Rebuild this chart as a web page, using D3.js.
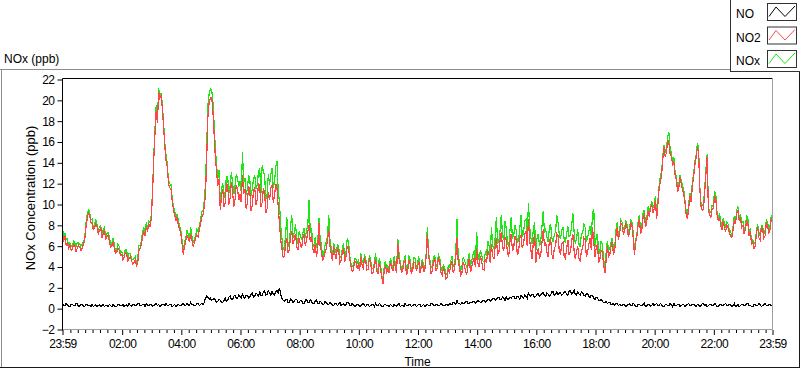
<!DOCTYPE html>
<html>
<head>
<meta charset="utf-8">
<script src="https://cdn.jsdelivr.net/npm/d3@7/dist/d3.min.js"></script>
<style>
  body { margin: 0; background: #fff; }
  text { font-family: "Liberation Sans", Arial, sans-serif; fill: #000; }
</style>
</head>
<body>
<div id="NoxChart"></div>
<script>
// one sample every 2.5 minutes, starting at 23:59, one row per hour
const sampleSeconds = 150;

const noValues = [
  0.5, 0.3, 0.3, 0.5, 0.4, 0.2, 0.2, 0.4, 0.4, 0.3, 0.3, 0.5, 0.5, 0.2, 0.3, 0.4, 0.4, 0.2, 0.2, 0.4, 0.4, 0.3, 0.3, 0.2,
  0.4, 0.2, 0.3, 0.4, 0.2, 0.3, 0.4, 0.2, 0.3, 0.4, 0.2, 0.3, 0.3, 0.2, 0.4, 0.3, 0.2, 0.4, 0.3, 0.2, 0.2, 0.4, 0.4, 0.3,
  0.3, 0.4, 0.2, 0.3, 0.4, 0.2, 0.5, 0.3, 0.2, 0.4, 0.4, 0.3, 0.3, 0.5, 0.5, 0.3, 0.3, 0.4, 0.4, 0.2, 0.5, 0.3, 0.3, 0.4,
  0.4, 0.2, 0.3, 0.4, 0.5, 0.3, 0.4, 0.2, 0.3, 0.4, 0.4, 0.3, 0.5, 0.3, 0.3, 0.4, 0.4, 0.2, 0.3, 0.4, 0.2, 0.3, 0.4, 0.3,
  0.3, 0.4, 0.5, 0.3, 0.3, 0.5, 0.4, 0.3, 0.6, 0.4, 0.4, 0.3, 0.3, 0.5, 0.5, 0.3, 0.4, 0.5, 0.4, 0.6, 1.0, 1.2, 1.1, 0.9,
  1.0, 0.8, 0.9, 1.0, 0.8, 0.6, 0.7, 0.9, 0.8, 0.6, 0.6, 0.8, 1.0, 0.7, 0.8, 1.1, 1.2, 0.9, 0.9, 1.2, 1.3, 1.0, 1.0, 1.3,
  1.2, 1.0, 1.4, 1.1, 1.0, 1.3, 1.3, 1.0, 1.1, 1.4, 1.5, 1.1, 1.2, 1.5, 1.4, 1.2, 1.6, 1.3, 1.3, 1.6, 1.7, 1.3, 1.4, 1.7,
  1.5, 1.3, 1.7, 1.4, 1.3, 1.6, 1.8, 1.5, 2.0, 1.4, 1.0, 0.8, 0.7, 0.9, 0.9, 0.6, 0.6, 0.9, 0.8, 0.6, 0.7, 0.9, 0.9, 0.6,
  0.6, 0.8, 0.8, 0.5, 0.5, 0.8, 0.9, 0.6, 0.6, 0.9, 0.7, 0.5, 0.5, 0.7, 0.8, 0.5, 0.5, 0.7, 0.6, 0.4, 0.4, 0.7, 0.6, 0.4,
  0.4, 0.6, 0.5, 0.3, 0.3, 0.5, 0.5, 0.3, 0.4, 0.6, 0.3, 0.4, 0.5, 0.3, 0.4, 0.6, 0.6, 0.3, 0.3, 0.5, 0.4, 0.2, 0.3, 0.4,
  0.4, 0.2, 0.3, 0.4, 0.5, 0.3, 0.2, 0.4, 0.4, 0.2, 0.3, 0.4, 0.4, 0.2, 0.5, 0.3, 0.3, 0.5, 0.4, 0.2, 0.2, 0.4, 0.4, 0.3,
  0.3, 0.2, 0.4, 0.3, 0.2, 0.4, 0.3, 0.2, 0.4, 0.5, 0.2, 0.3, 0.3, 0.2, 0.5, 0.3, 0.3, 0.4, 0.4, 0.2, 0.3, 0.4, 0.4, 0.2,
  0.3, 0.4, 0.4, 0.2, 0.3, 0.4, 0.2, 0.3, 0.4, 0.3, 0.3, 0.5, 0.5, 0.3, 0.3, 0.4, 0.4, 0.3, 0.3, 0.5, 0.4, 0.3, 0.3, 0.4,
  0.4, 0.3, 0.5, 0.4, 0.4, 0.6, 0.6, 0.4, 0.8, 0.5, 0.5, 0.4, 0.6, 0.5, 0.5, 0.7, 0.7, 0.5, 0.5, 0.6, 0.6, 0.7, 0.7, 0.5,
  0.6, 0.8, 0.7, 0.6, 0.6, 0.8, 0.8, 0.6, 0.7, 0.9, 0.9, 0.7, 0.8, 1.0, 1.0, 0.8, 0.9, 1.1, 1.1, 0.9, 0.9, 1.1, 1.0, 0.8,
  1.1, 0.9, 0.9, 1.1, 1.0, 1.2, 1.2, 1.0, 1.0, 1.2, 1.1, 0.9, 1.3, 1.1, 1.0, 1.3, 1.2, 1.0, 1.5, 1.3, 1.2, 1.4, 1.3, 1.1,
  1.2, 1.4, 1.4, 1.2, 1.3, 1.5, 1.5, 1.3, 1.2, 1.5, 1.4, 1.2, 1.3, 1.6, 1.6, 1.3, 1.4, 1.6, 1.3, 1.5, 1.5, 1.3, 1.4, 1.6,
  1.6, 1.4, 1.3, 1.7, 1.7, 1.4, 1.5, 1.8, 1.4, 1.3, 1.6, 1.4, 1.3, 1.6, 1.5, 1.3, 1.2, 1.4, 1.4, 1.2, 1.1, 1.3, 1.3, 1.0,
  0.9, 1.1, 1.0, 0.8, 0.8, 0.9, 0.7, 0.6, 0.6, 0.7, 0.5, 0.6, 0.6, 0.4, 0.4, 0.5, 0.3, 0.5, 0.5, 0.3, 0.4, 0.3, 0.3, 0.4,
  0.4, 0.2, 0.3, 0.4, 0.5, 0.3, 0.3, 0.5, 0.4, 0.2, 0.2, 0.4, 0.4, 0.3, 0.3, 0.4, 0.5, 0.2, 0.3, 0.4, 0.4, 0.2, 0.3, 0.5,
  0.3, 0.4, 0.5, 0.3, 0.3, 0.5, 0.4, 0.2, 0.2, 0.4, 0.4, 0.3, 0.3, 0.5, 0.4, 0.2, 0.5, 0.3, 0.3, 0.4, 0.4, 0.2, 0.3, 0.4,
  0.4, 0.2, 0.3, 0.4, 0.5, 0.3, 0.3, 0.4, 0.4, 0.3, 0.2, 0.4, 0.4, 0.2, 0.3, 0.5, 0.5, 0.3, 0.4, 0.2, 0.3, 0.4, 0.4, 0.3,
  0.3, 0.5, 0.4, 0.2, 0.2, 0.4, 0.4, 0.3, 0.3, 0.4, 0.5, 0.3, 0.3, 0.4, 0.4, 0.2, 0.3, 0.5, 0.2, 0.3, 0.4, 0.2, 0.3, 0.4,
  0.4, 0.3, 0.3, 0.5, 0.5, 0.3, 0.3, 0.2, 0.2, 0.4, 0.4, 0.3, 0.3, 0.5, 0.4, 0.2, 0.3, 0.4, 0.5, 0.3, 0.3, 0.4, 0.4, 0.3,
  0.3
];

const no2Values = [
  7.2, 6.6, 6.9, 6.1, 6.3, 5.8, 6.1, 5.6, 5.7, 6.2, 6.0, 5.5, 5.8, 6.1, 5.9, 5.6, 5.8, 6.2, 6.5, 7.8, 8.6, 9.2, 9.0, 8.3,
  8.2, 7.6, 7.8, 8.1, 7.9, 7.2, 7.5, 7.8, 6.8, 7.2, 7.6, 6.6, 6.9, 7.1, 6.5, 5.9, 6.0, 6.4, 5.9, 5.3, 5.4, 5.8, 5.6, 5.1,
  5.2, 4.7, 4.9, 5.4, 5.3, 4.6, 4.8, 5.0, 4.6, 4.3, 4.4, 4.7, 4.1, 4.3, 5.6, 5.8, 6.2, 7.0, 7.4, 7.0, 7.8, 7.5, 8.1, 7.9,
  8.6, 11.0, 14.2, 16.8, 19.0, 17.8, 20.8, 20.2, 20.4, 19.2, 17.5, 15.6, 14.2, 13.6, 12.0, 11.6, 11.5, 10.4, 9.5, 9.0, 8.4, 8.8, 8.0, 7.6,
  7.2, 6.2, 5.2, 6.0, 6.5, 7.0, 6.8, 6.4, 7.2, 6.6, 6.0, 6.3, 6.8, 7.1, 6.9, 7.6, 8.2, 8.8, 9.0, 9.8, 11.0, 14.5, 18.5, 19.8,
  20.2, 20.3, 19.0, 16.8, 14.5, 13.2, 11.8, 12.4, 9.5, 10.8, 11.5, 9.8, 10.2, 12.0, 11.8, 10.0, 10.6, 12.2, 11.2, 9.8, 10.5, 11.9, 11.5, 10.4,
  11.0, 10.2, 12.8, 11.0, 11.5, 9.6, 10.2, 11.8, 11.2, 9.4, 10.0, 11.4, 11.6, 10.0, 10.5, 12.0, 11.8, 9.8, 10.2, 11.6, 11.0, 9.2, 9.6, 11.2,
  10.4, 11.6, 11.8, 10.2, 10.8, 12.0, 11.6, 9.8, 8.2, 6.6, 5.8, 4.9, 5.0, 6.2, 6.8, 5.4, 5.6, 7.0, 7.4, 6.2, 6.6, 7.2, 6.0, 5.6,
  6.8, 6.2, 5.8, 6.8, 7.2, 6.0, 6.6, 7.4, 8.0, 6.4, 7.0, 5.8, 5.4, 6.2, 5.0, 5.6, 8.2, 6.0, 5.6, 4.6, 4.9, 5.4, 5.8, 6.6,
  7.6, 6.0, 5.3, 4.6, 6.0, 5.2, 4.8, 5.8, 5.6, 4.4, 4.6, 5.4, 5.8, 4.5, 5.0, 6.0, 5.9, 4.8, 4.1, 3.6, 3.7, 4.6, 4.5, 3.9,
  4.2, 3.6, 5.0, 4.2, 3.9, 4.8, 4.6, 3.7, 3.8, 4.9, 4.4, 3.4, 3.5, 4.2, 4.8, 3.6, 3.3, 4.4, 3.8, 3.0, 2.4, 3.6, 4.2, 3.5,
  3.8, 3.4, 4.5, 4.0, 3.6, 4.6, 4.0, 3.4, 6.3, 4.8, 4.2, 3.5, 3.7, 4.4, 4.6, 3.3, 3.5, 4.7, 4.3, 3.4, 3.6, 4.5, 4.4, 3.7,
  4.0, 4.6, 3.4, 3.9, 4.5, 3.5, 3.8, 5.0, 7.2, 5.0, 4.4, 3.4, 3.6, 4.6, 4.8, 3.6, 3.9, 4.9, 4.6, 3.5, 3.2, 3.9, 3.6, 2.9,
  3.0, 3.8, 3.5, 4.2, 4.6, 3.4, 3.8, 4.8, 6.8, 4.6, 4.0, 3.2, 3.4, 4.4, 4.2, 3.6, 3.3, 4.2, 4.8, 3.5, 4.0, 4.5, 4.9, 4.0,
  5.8, 4.4, 4.0, 5.0, 4.6, 3.8, 3.7, 4.8, 4.4, 5.6, 5.2, 4.4, 6.2, 5.0, 4.8, 6.0, 6.8, 5.2, 5.4, 6.6, 7.4, 5.8, 5.6, 6.8,
  6.6, 5.4, 5.0, 6.4, 7.2, 5.6, 5.8, 7.0, 6.6, 5.2, 5.4, 6.8, 7.0, 5.8, 6.2, 7.2, 7.4, 6.0, 8.6, 6.6, 5.6, 4.8, 6.4, 7.2,
  4.4, 5.4, 5.8, 4.8, 5.2, 6.4, 7.6, 6.0, 6.4, 5.4, 5.0, 6.6, 6.8, 5.2, 4.8, 5.8, 6.0, 7.2, 7.0, 5.6, 5.2, 6.2, 6.4, 5.0,
  4.8, 5.8, 6.6, 5.2, 5.4, 6.4, 7.2, 5.6, 4.8, 5.4, 6.0, 4.8, 4.6, 5.6, 5.8, 6.8, 6.6, 5.0, 5.4, 6.2, 6.8, 5.6, 7.8, 6.4,
  5.0, 5.8, 6.2, 4.4, 4.8, 5.6, 5.4, 4.2, 3.4, 4.6, 6.0, 5.0, 5.2, 6.0, 6.4, 5.2, 5.6, 7.0, 7.8, 6.6, 7.2, 8.2, 8.0, 7.2,
  7.4, 8.2, 7.8, 7.0, 7.2, 8.2, 8.0, 6.8, 5.2, 6.4, 7.0, 8.0, 8.6, 7.2, 7.6, 8.8, 9.0, 7.8, 8.4, 9.4, 8.8, 9.6, 10.0, 9.2,
  9.6, 10.4, 8.6, 10.0, 11.5, 12.2, 12.8, 14.4, 15.5, 14.6, 15.0, 16.2, 15.8, 14.8, 14.6, 13.8, 14.0, 12.8, 12.4, 11.2, 11.6, 12.6, 12.0, 11.4,
  11.0, 10.2, 9.0, 8.6, 9.6, 10.8, 10.2, 11.8, 12.6, 13.8, 14.5, 15.4, 15.2, 11.6, 9.8, 9.4, 9.6, 11.2, 13.0, 14.6, 9.4, 9.0, 8.8, 9.6,
  9.6, 10.8, 10.6, 9.0, 8.4, 8.8, 8.0, 7.6, 8.4, 7.8, 7.4, 8.0, 7.8, 7.2, 7.0, 6.8, 7.6, 8.4, 8.2, 9.2, 9.4, 8.4, 8.8, 7.8,
  8.0, 7.2, 7.6, 8.4, 8.2, 7.0, 7.4, 6.2, 6.4, 5.8, 6.0, 7.2, 7.8, 6.8, 6.6, 7.8, 7.6, 6.8, 7.0, 8.2, 8.0, 7.2, 7.6, 8.6,
  8.4
];

const noxValues = [
  7.7, 6.9, 7.2, 6.6, 6.7, 6.0, 6.3, 6.0, 6.1, 6.5, 6.3, 6.0, 6.3, 6.3, 6.2, 6.0, 6.2, 6.4, 6.7, 8.2, 9.0, 9.5, 9.3, 8.5,
  8.6, 7.8, 8.1, 8.5, 8.1, 7.5, 7.9, 8.0, 7.1, 7.6, 7.8, 6.9, 7.2, 7.3, 6.9, 6.2, 6.2, 6.8, 6.2, 5.5, 5.6, 6.2, 6.0, 5.4,
  5.5, 5.1, 5.1, 5.7, 5.7, 4.8, 5.3, 5.3, 4.8, 4.7, 4.8, 5.0, 4.4, 4.8, 6.1, 6.1, 6.5, 7.4, 7.8, 7.2, 8.3, 7.8, 8.4, 8.3,
  9.0, 11.2, 14.5, 17.2, 19.5, 18.1, 21.2, 20.4, 20.7, 19.6, 17.9, 15.9, 14.7, 13.9, 12.3, 12.0, 11.9, 10.6, 9.8, 9.4, 8.6, 9.1, 8.4, 7.9,
  7.5, 6.6, 5.7, 6.3, 6.8, 7.5, 7.2, 6.7, 7.8, 7.0, 6.4, 6.6, 7.1, 7.6, 7.4, 7.9, 8.6, 9.3, 9.4, 10.4, 12.0, 15.7, 19.6, 20.7,
  21.1, 21.0, 19.9, 17.8, 15.3, 13.8, 12.5, 13.3, 10.3, 11.4, 12.1, 10.6, 11.2, 12.7, 12.6, 11.1, 11.8, 13.1, 12.1, 11.0, 11.8, 12.9, 12.5, 11.7,
  12.2, 11.2, 15.0, 12.1, 12.5, 10.9, 11.5, 12.8, 12.3, 10.8, 11.5, 12.5, 12.8, 11.5, 11.9, 13.2, 13.4, 11.1, 13.8, 13.2, 12.7, 10.5, 11.0, 12.9,
  11.9, 12.9, 13.5, 11.6, 12.1, 13.6, 14.2, 11.3, 10.2, 8.0, 6.8, 5.7, 5.7, 7.1, 8.8, 6.0, 6.2, 7.9, 9.0, 6.8, 7.3, 8.1, 6.9, 6.2,
  7.4, 7.0, 6.6, 7.3, 7.7, 6.8, 7.5, 8.0, 10.4, 7.3, 7.7, 6.3, 5.9, 6.9, 5.8, 6.1, 8.7, 6.7, 6.2, 5.0, 5.3, 6.1, 6.4, 7.0,
  9.0, 6.6, 5.8, 4.9, 6.3, 5.7, 5.3, 6.1, 6.0, 5.0, 4.9, 5.8, 6.3, 4.8, 5.4, 6.7, 6.5, 5.1, 4.4, 4.1, 4.1, 4.8, 4.8, 4.3,
  4.6, 3.8, 5.3, 4.6, 4.4, 5.1, 4.8, 4.1, 4.2, 5.1, 4.7, 3.8, 3.9, 4.4, 5.3, 3.9, 3.6, 4.9, 4.2, 3.2, 2.6, 4.0, 4.6, 3.8,
  4.1, 3.6, 4.9, 4.3, 3.8, 5.0, 4.3, 3.6, 6.7, 5.3, 4.4, 3.8, 4.0, 4.6, 5.1, 3.6, 3.8, 5.1, 4.7, 3.6, 3.9, 4.9, 4.8, 3.9,
  4.3, 5.0, 3.8, 4.1, 4.8, 3.9, 4.0, 5.3, 7.8, 5.3, 4.7, 3.9, 4.1, 4.9, 5.1, 4.0, 4.3, 5.2, 4.9, 4.0, 3.6, 4.2, 3.9, 3.3,
  3.4, 4.1, 4.0, 4.6, 5.0, 4.0, 4.4, 5.2, 8.6, 5.1, 4.5, 3.6, 4.0, 4.9, 4.7, 4.3, 4.0, 4.7, 5.3, 4.1, 4.6, 5.2, 5.6, 4.5,
  7.4, 5.2, 4.7, 5.6, 5.2, 4.6, 4.5, 5.4, 5.1, 6.5, 6.1, 5.1, 7.8, 6.0, 5.8, 6.8, 8.8, 6.3, 6.5, 7.5, 9.0, 6.9, 6.6, 8.4,
  7.7, 6.3, 5.9, 7.5, 8.8, 6.8, 7.0, 8.0, 7.6, 6.4, 6.5, 7.7, 9.0, 6.9, 7.2, 8.5, 8.6, 7.0, 10.1, 7.9, 6.8, 6.2, 7.7, 8.3,
  5.6, 6.8, 7.2, 6.0, 6.5, 7.9, 9.4, 7.3, 7.6, 6.9, 6.4, 7.8, 8.1, 6.8, 6.4, 7.1, 7.4, 9.0, 8.3, 7.1, 6.7, 7.5, 7.8, 6.6,
  6.4, 7.2, 7.9, 6.9, 7.1, 7.8, 9.2, 7.4, 6.2, 6.7, 7.6, 6.2, 5.9, 7.2, 7.3, 8.1, 7.8, 6.4, 6.8, 7.4, 7.9, 6.9, 9.1, 9.6,
  5.9, 6.9, 7.2, 5.2, 5.6, 6.5, 6.1, 4.8, 4.0, 5.3, 6.5, 5.6, 5.8, 6.4, 6.8, 5.7, 5.9, 7.5, 8.3, 6.9, 7.6, 8.5, 8.3, 7.6,
  7.8, 8.4, 8.1, 7.4, 7.7, 8.5, 8.3, 7.3, 5.6, 6.6, 7.2, 8.4, 9.0, 7.5, 7.9, 9.2, 9.5, 8.0, 8.7, 9.8, 9.2, 9.8, 10.3, 9.7,
  9.9, 10.8, 9.1, 10.3, 11.8, 12.7, 13.2, 14.6, 15.7, 15.0, 15.4, 16.5, 16.9, 15.3, 15.0, 14.0, 14.5, 13.1, 12.7, 11.6, 12.0, 12.8, 12.3, 11.8,
  11.4, 10.4, 9.3, 9.0, 10.1, 11.1, 10.5, 12.2, 13.0, 14.1, 14.7, 15.8, 15.6, 11.8, 10.1, 9.9, 10.1, 11.5, 13.4, 14.8, 9.7, 9.4, 9.2, 9.9,
  9.9, 11.3, 11.0, 9.2, 8.6, 9.2, 8.4, 7.9, 8.7, 8.2, 7.9, 8.3, 8.1, 7.6, 7.4, 7.0, 7.9, 8.9, 8.4, 9.5, 9.8, 8.6, 9.1, 8.2,
  8.4, 7.5, 7.9, 8.9, 8.7, 7.3, 7.7, 6.4, 6.6, 6.2, 6.4, 7.5, 8.1, 7.3, 7.0, 8.0, 7.9, 7.2, 7.5, 8.5, 8.3, 7.6, 8.0, 8.9,
  8.7
];

const seriesNames = ['NO', 'NO2', 'NOx'];
const seriesColors = ['#000000', '#ff4646', '#1ee614'];

const yTicks = [-2, 0, 2, 4, 6, 8, 10, 12, 14, 16, 18, 20, 22];
const xTickLabels = ['23:59', '02:00', '04:00', '06:00', '08:00', '10:00', '12:00',
  '14:00', '16:00', '18:00', '20:00', '22:00', '23:59'];

const width = 800;
const height = 369;
const plot = {left: 62.5, right: 772.5, top: 78.5, bottom: 329.5};

const startTime = new Date(2000, 0, 1, 23, 59);
const endTime = d3.timeDay.offset(startTime, 1);

const svg = d3.select('#NoxChart').append('svg')
  .attr('width', width)
  .attr('height', height);

// Set the ranges
const x = d3.scaleTime().domain([startTime, endTime]).range([plot.left, plot.right]);
const y = d3.scaleLinear().domain([-2, 22]).range([329.5, 79.5]);

const sampleTime = i => d3.timeSecond.offset(startTime, i * sampleSeconds);

// outer panel frame
svg.append('line').attr('x1', 0).attr('x2', 730).attr('y1', 69.5).attr('y2', 69.5)
  .style('stroke', '#8c8c8c');
svg.append('line').attr('x1', 1.5).attr('x2', 1.5).attr('y1', 69.5).attr('y2', 367.5)
  .style('stroke', '#8c8c8c');
svg.append('line').attr('x1', 0).attr('x2', 800).attr('y1', 367.5).attr('y2', 367.5)
  .style('stroke', '#1a1a1a');
svg.append('line').attr('x1', 799.5).attr('x2', 799.5).attr('y1', 70).attr('y2', 368)
  .style('stroke', '#1a1a1a');

// chart title
svg.append('text')
  .attr('x', 4)
  .attr('y', 63)
  .style('font-size', '12px')
  .text('NOx (ppb)');

// clip for the traces
svg.append('clipPath').attr('id', 'plotClip')
  .append('rect')
  .attr('x', plot.left).attr('y', plot.top)
  .attr('width', plot.right - plot.left).attr('height', plot.bottom - plot.top);

const traces = svg.append('g').attr('clip-path', 'url(#plotClip)');

// Define the line
const lineBuilder = d3.line()
  .x((d, i) => x(sampleTime(i)))
  .y(d => y(d));

// NOx behind NO2, NO on its own band; aliased like the instrument plot
[[noxValues, 2], [no2Values, 1], [noValues, 0]].forEach(([values, k]) => {
  traces.append('path')
    .attr('d', lineBuilder(values))
    .style('fill', 'none')
    .style('stroke', seriesColors[k])
    .style('stroke-width', 1.2)
    .style('shape-rendering', 'crispEdges');
});

// plot frame: dark top/left, light bottom/right
svg.append('line').attr('x1', plot.left).attr('x2', plot.right).attr('y1', plot.top).attr('y2', plot.top)
  .style('stroke', '#000');
svg.append('line').attr('x1', plot.left).attr('x2', plot.left).attr('y1', plot.top).attr('y2', 330.5)
  .style('stroke', '#000');
svg.append('line').attr('x1', plot.right).attr('x2', plot.right).attr('y1', plot.top).attr('y2', plot.bottom)
  .style('stroke', '#a0a0a0');
svg.append('line').attr('x1', plot.left + 0.5).attr('x2', plot.right).attr('y1', plot.bottom).attr('y2', plot.bottom)
  .style('stroke', '#a0a0a0');

// Add Y axis
const yAxis = svg.append('g')
  .attr('transform', 'translate(' + plot.left + ',0)')
  .call(d3.axisLeft(y).tickValues(yTicks).tickSize(5).tickPadding(3));
yAxis.select('.domain').remove();
yAxis.selectAll('text').style('font-size', '12px').style('letter-spacing', '-0.5px')
  .style('font-family', '"Liberation Sans", Arial, sans-serif');

// major x ticks from the labels
const majorTimes = xTickLabels.map((label, i) => {
  if (i === 0) return startTime;
  if (i === xTickLabels.length - 1) return endTime;
  const [h, m] = label.split(':').map(Number);
  return new Date(2000, 0, 2, h, m);
});
const minorTimes = d3.timeMinute.every(15).range(d3.timeMinute.offset(startTime, 2), endTime)
  .filter(t => !(t.getMinutes() === 0 && t.getHours() % 2 === 0));

// Add X axis (minor ticks)
const xMinor = svg.append('g')
  .attr('transform', 'translate(0,330)')
  .call(d3.axisBottom(x).tickValues(minorTimes).tickSize(3).tickFormat(''));
xMinor.select('.domain').remove();

// Add X axis (major ticks + labels)
const xAxis = svg.append('g')
  .attr('transform', 'translate(0,330)')
  .call(d3.axisBottom(x).tickValues(majorTimes).tickSize(5).tickPadding(4)
    .tickFormat((d, i) => xTickLabels[i]));
xAxis.select('.domain').remove();
xAxis.selectAll('text').style('font-size', '12px').style('letter-spacing', '-0.5px')
  .style('font-family', '"Liberation Sans", Arial, sans-serif');

// text label x axis
svg.append('text')
  .attr('x', (plot.left + plot.right) / 2)
  .attr('y', 366)
  .style('text-anchor', 'middle')
  .style('font-size', '12px')
  .text('Time');

// text label y axis
svg.append('text')
  .attr('transform', 'translate(35,198) rotate(-90)')
  .style('text-anchor', 'middle')
  .style('font-size', '13px')
  .text('NOx Concentration (ppb)');

// legend
const legend = svg.append('g');
legend.append('rect')
  .attr('x', 730.5).attr('y', -1)
  .attr('width', 72).attr('height', 72.5)
  .style('fill', '#fff')
  .style('stroke', '#333');

const zigzag = d3.line();
seriesNames.forEach((name, i) => {
  const top = 3.5 + i * 23.5;
  legend.append('text')
    .attr('x', 736)
    .attr('y', top + 14.5)
    .style('font-size', '12px')
    .text(name);
  legend.append('rect')
    .attr('x', 767.5).attr('y', top)
    .attr('width', 29).attr('height', 17)
    .style('fill', '#fff')
    .style('stroke', '#333');
  legend.append('path')
    .attr('d', zigzag([[769, top + 13], [776, top + 3.5], [785, top + 13], [795, top + 2.5]]))
    .style('fill', 'none')
    .style('stroke', seriesColors[i])
    .style('stroke-width', 1);
});
</script>
</body>
</html>
